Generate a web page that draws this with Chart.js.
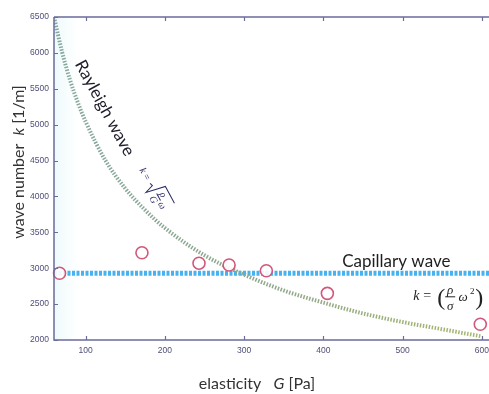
<!DOCTYPE html>
<html lang="en">
<head>
    <meta charset="UTF-8">
    <title>Wave number vs elasticity</title>
    <script src="https://cdn.jsdelivr.net/npm/chart.js"></script>
    <style>
        html, body { margin: 0; padding: 0; background: #fff; }
        #wrap { width: 489px; height: 394px; }
    </style>
</head>
<body>
    <div id="wrap"><canvas id="myChart" width="489" height="394"></canvas></div>

    <script>
        // values
        const xTicks = [100, 200, 300, 400, 500, 600];
        const yTicks = [2000, 2500, 3000, 3500, 4000, 4500, 5000, 5500, 6000, 6500];

        // measured points (elasticity G, wave number k)
        const measuredG = [67, 171, 243, 281, 328, 405, 598];
        const measuredK = [2930, 3215, 3070, 3045, 2965, 2650, 2220];

        // Rayleigh wave curve
        const rayleighG = [60, 70, 80, 90, 100, 125, 150, 175, 200, 250, 300, 350, 400, 450, 500, 550, 600];
        const rayleighK = [6500, 6020, 5630, 5310, 5040, 4500, 4110, 3810, 3560, 3180, 2910, 2690, 2520, 2370, 2250, 2150, 2050];

        // capillary wave level
        const capillaryG = [60, 609];
        const capillaryK = [2930, 2930];

        const toPoints = (xs, ys) => xs.map((x, i) => ({ x: x, y: ys[i] }));

        const axisColor = '#6b6b9c';
        const labelColor = '#4e4e78';

        // inward ticks, top border, titles and annotations
        const decor = {
            id: 'decor',
            beforeDatasetsDraw(chart) {
                const { ctx, chartArea: a } = chart;
                ctx.save();
                const g = ctx.createLinearGradient(a.left, 0, a.left + 24, 0);
                g.addColorStop(0, 'rgba(225,246,250,0.55)');
                g.addColorStop(1, 'rgba(225,246,250,0)');
                ctx.fillStyle = g;
                ctx.fillRect(a.left, a.top, 24, a.bottom - a.top);
                ctx.restore();
            },
            afterDraw(chart) {
                const { ctx, chartArea: a, scales } = chart;
                const xs = scales.x, ys = scales.y;
                ctx.save();
                ctx.strokeStyle = axisColor;
                ctx.lineWidth = 1.5;
                ctx.beginPath();
                ctx.moveTo(a.left, a.top); ctx.lineTo(a.left, a.bottom); ctx.lineTo(a.right, a.bottom);
                ctx.moveTo(a.left, a.top); ctx.lineTo(a.right, a.top);
                ctx.stroke();
                ctx.lineWidth = 1.2;
                ctx.beginPath();
                xTicks.forEach(v => {
                    const px = Math.round(xs.getPixelForValue(v)) + 0.5;
                    ctx.moveTo(px, a.bottom); ctx.lineTo(px, a.bottom - 4);
                    ctx.moveTo(px, a.top); ctx.lineTo(px, a.top + 4);
                });
                yTicks.forEach(v => {
                    const py = Math.round(ys.getPixelForValue(v)) + 0.5;
                    ctx.moveTo(a.left, py); ctx.lineTo(a.left + 4, py);
                });
                ctx.stroke();

                // axis titles
                ctx.fillStyle = '#333';
                ctx.textBaseline = 'middle';
                let parts = [['elasticity   ', '16px Lato'], ['G', 'italic 16px Lato'], [' [Pa]', '16px Lato']];
                drawParts(ctx, parts, 257, 384);
                ctx.save();
                ctx.translate(19, 162);
                ctx.rotate(-Math.PI / 2);
                parts = [['wave number  ', '16px Lato'], ['k', 'italic 16px Lato'], [' [1/m]', '16px Lato']];
                drawParts(ctx, parts, 0, 0);
                ctx.restore();

                // Rayleigh wave label along the curve
                const ang = 61.5 * Math.PI / 180;
                ctx.save();
                ctx.translate(xs.getPixelForValue(124), ys.getPixelForValue(5230));
                ctx.rotate(ang);
                ctx.fillStyle = '#1e1e2a';
                ctx.font = '17px Lato';
                ctx.textAlign = 'center';
                ctx.fillText('Rayleigh wave', 0, 0);
                ctx.restore();

                ctx.save();
                ctx.translate(xs.getPixelForValue(171), ys.getPixelForValue(4390));
                ctx.rotate(ang);
                ctx.fillStyle = '#2c2c66';
                ctx.strokeStyle = '#2c2c66';
                ctx.lineWidth = 1;
                ctx.textBaseline = 'alphabetic';
                ctx.textAlign = 'left';
                ctx.font = 'italic 10px "Liberation Serif"';
                ctx.fillText('k', 0, 3);
                ctx.font = '10px "Liberation Serif"';
                ctx.fillText('=', 7, 3);
                ctx.beginPath();
                ctx.moveTo(17, 0); ctx.lineTo(20, -1); ctx.lineTo(23, 8); ctx.lineTo(27, -12); ctx.lineTo(46, -12);
                ctx.stroke();
                ctx.font = 'italic 10px "Liberation Serif"';
                ctx.textAlign = 'center';
                ctx.fillText('\u03c1', 33, -3);
                ctx.fillText('G', 33, 8);
                ctx.beginPath(); ctx.moveTo(29, -1); ctx.lineTo(37, -1); ctx.stroke();
                ctx.fillText('\u03c9', 42, 3);
                ctx.restore();

                // Capillary wave label and formula
                ctx.fillStyle = '#1e1e1e';
                ctx.font = '17px Lato';
                ctx.textAlign = 'center';
                ctx.textBaseline = 'middle';
                ctx.fillText('Capillary wave', xs.getPixelForValue(492), ys.getPixelForValue(3090));

                const fx = xs.getPixelForValue(531), fy = ys.getPixelForValue(2560);
                ctx.textBaseline = 'alphabetic';
                ctx.textAlign = 'left';
                ctx.fillStyle = '#222';
                ctx.font = 'italic 14px "Liberation Serif"';
                ctx.fillText('k', fx - 14, fy);
                ctx.font = '14px "Liberation Serif"';
                ctx.fillText('=', fx - 4, fy);
                ctx.font = '24px "Liberation Serif"';
                ctx.fillText('(', fx + 10, fy + 5);
                ctx.fillText(')', fx + 48, fy + 5);
                ctx.font = 'italic 13px "Liberation Serif"';
                ctx.textAlign = 'center';
                ctx.fillText('\u03c1', fx + 23, fy - 6);
                ctx.fillText('\u03c3', fx + 23, fy + 10);
                ctx.strokeStyle = '#222';
                ctx.lineWidth = 1;
                ctx.beginPath(); ctx.moveTo(fx + 18, fy - 3); ctx.lineTo(fx + 28, fy - 3); ctx.stroke();
                ctx.fillText('\u03c9', fx + 36, fy + 1);
                ctx.font = '9px "Liberation Serif"';
                ctx.fillText('2', fx + 45, fy - 6);
                ctx.restore();
            }
        };

        function drawParts(ctx, parts, cx, cy) {
            let total = 0;
            parts.forEach(p => { ctx.font = p[1]; total += ctx.measureText(p[0]).width; });
            let x = cx - total / 2;
            ctx.textAlign = 'left';
            parts.forEach(p => { ctx.font = p[1]; ctx.fillText(p[0], x, cy); x += ctx.measureText(p[0]).width; });
        }

        const data = {
            datasets: [{
                label: 'Measured',
                data: toPoints(measuredG, measuredK),
                showLine: false,
                pointRadius: 6,
                pointBorderWidth: 1.6,
                pointBorderColor: '#d2587a',
                pointBackgroundColor: 'rgba(255,255,255,0.9)',
                clip: false,
                order: 0
            }, {
                label: 'Rayleigh wave',
                data: toPoints(rayleighG, rayleighK),
                showLine: true,
                pointRadius: 0,
                borderWidth: 4,
                borderDash: [1.5, 1.5],
                cubicInterpolationMode: 'monotone',
                borderColor: function(context) {
                    const a = context.chart.chartArea;
                    if (!a) return '#8faa98';
                    const g = context.chart.ctx.createLinearGradient(a.left, 0, a.right, 0);
                    g.addColorStop(0, '#86a89e');
                    g.addColorStop(0.5, '#8ea88a');
                    g.addColorStop(1, '#a8b86c');
                    return g;
                },
                order: 1
            }, {
                label: 'Capillary wave',
                data: toPoints(capillaryG, capillaryK),
                showLine: true,
                pointRadius: 0,
                borderWidth: 5,
                borderDash: [3, 1.5],
                borderColor: '#45b2f2',
                order: 2
            }]
        };

        const config = {
            type: 'scatter',
            data: data,
            options: {
                responsive: false,
                animation: false,
                layout: { autoPadding: false, padding: { top: 17, right: 0, left: 0, bottom: 0 } },
                plugins: { legend: { display: false }, tooltip: { enabled: false } },
                scales: {
                    x: {
                        type: 'linear', min: 60, max: 609,
                        grid: { display: false, drawTicks: false, tickLength: 0 }, border: { display: false },
                        afterBuildTicks: s => { s.ticks = xTicks.map(v => ({ value: v })); },
                        afterFit: s => { s.height = 54; s.paddingLeft = 0; s.paddingRight = 0; },
                        ticks: { color: labelColor, font: { family: 'Liberation Sans', size: 8.5 }, padding: 6, maxRotation: 0,
                                 callback: v => String(v) }
                    },
                    y: {
                        type: 'linear', min: 2000, max: 6500,
                        grid: { display: false, drawTicks: false, tickLength: 0 }, border: { display: false },
                        afterBuildTicks: s => { s.ticks = yTicks.map(v => ({ value: v })); },
                        afterFit: s => { s.width = 54; s.paddingTop = 0; s.paddingBottom = 0; },
                        ticks: { color: labelColor, font: { family: 'Liberation Sans', size: 8.5 }, padding: 5,
                                 callback: v => String(v) }
                    }
                }
            },
            plugins: [decor]
        };

        const myChart = new Chart(document.getElementById('myChart'), config);
    </script>
</body>
</html>
